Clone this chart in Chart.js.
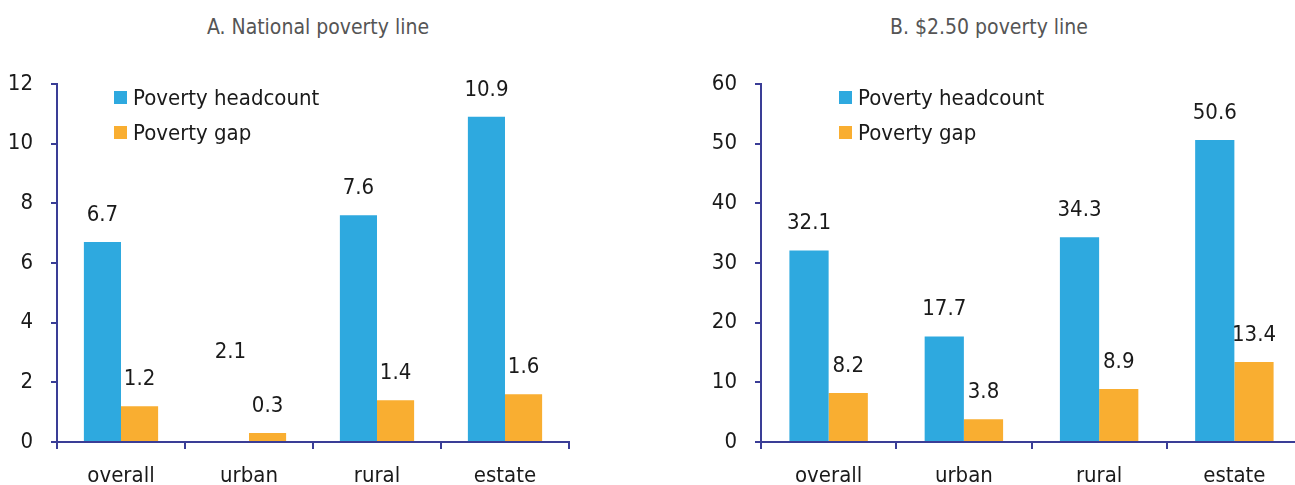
<!DOCTYPE html>
<html>
<head>
<meta charset="utf-8">
<script src="https://cdn.jsdelivr.net/npm/chart.js@4"></script>
<style>
  body {
    margin: 0;
    width: 1295px;
    height: 485px;
    overflow: hidden;
    background: #fff;
    position: relative;
    font-family: "Liberation Sans Narrow", "DejaVu Sans Condensed", sans-serif;
  }
  canvas { position: absolute; top: 0; }
  .virsraksts {
    position: absolute;
    top: 14px;
    font-size: 21px;
    line-height: 26px;
    color: #555;
    white-space: nowrap;
    transform: translateX(-50%);
  }
  .legenda {
    position: absolute;
    top: 80px;
    font-size: 22px;
    color: #1a1a1a;
  }
  .legenda div { height: 35px; display: flex; align-items: center; white-space: nowrap; }
  .legenda span { display: inline-block; width: 13px; height: 13px; margin-right: 6px; }
</style>
</head>
<body>
<div class="virsraksts" style="left:318px">A. National poverty line</div>
<div class="virsraksts" style="left:989px">B. $2.50 poverty line</div>
<canvas id="grafiksA" width="650" height="485" style="left:0"></canvas>
<canvas id="grafiksB" width="655" height="485" style="left:650px"></canvas>
<div class="legenda" style="left:114px">
  <div><span style="background:#2ea9df"></span>Poverty headcount</div>
  <div><span style="background:#f9ae31"></span>Poverty gap</div>
</div>
<div class="legenda" style="left:839px">
  <div><span style="background:#2ea9df"></span>Poverty headcount</div>
  <div><span style="background:#f9ae31"></span>Poverty gap</div>
</div>
<script>
// Kategorijas un vērtības, nolasītas no attēla.
const kategorijas = ["overall", "urban", "rural", "estate"];
const headcountA = [6.7, 2.1, 7.6, 10.9];
const gapA = [1.2, 0.3, 1.4, 1.6];
const headcountB = [32.1, 17.7, 34.3, 50.6];
const gapB = [8.2, 3.8, 8.9, 13.4];
const ticksA = [0, 2, 4, 6, 8, 10, 12];
const ticksB = [0, 10, 20, 30, 40, 50, 60];
// Oriģinālā pilsētas stabiņš A panelī nav uzzīmēts, tikai tā vērtība.
const bezStabinaA = [false, true, false, false];
const bezStabinaB = [false, false, false, false];

const zila = "#2ea9df";
const oranza = "#f9ae31";
const asuKrasa = "#3a3d96";
const fonts = "'Liberation Sans Narrow', 'DejaVu Sans Condensed', sans-serif";

// Vērtību etiķetes virs stabiņiem.
const vertibuEtiketes = {
    id: "vertibuEtiketes",
    afterDatasetsDraw(chart) {
        const ctx = chart.ctx;
        ctx.save();
        ctx.font = "22px " + fonts;
        ctx.fillStyle = "#1a1a1a";
        ctx.textAlign = "center";
        ctx.textBaseline = "middle";
        chart.data.datasets.forEach((ds, i) => {
            chart.getDatasetMeta(i).data.forEach((bar, j) => {
                ctx.fillText(ds.data[j].toFixed(1), bar.x, bar.y - 27);
            });
        });
        ctx.restore();
    }
};

function uzzimet(id, headcount, gap, ticks, bezStabina, yPlatums, labaMala) {
    new Chart(document.getElementById(id), {
        type: "bar",
        data: {
            labels: kategorijas,
            datasets: [
                {
                    label: "Poverty headcount",
                    data: headcount,
                    backgroundColor: bezStabina.map(b => b ? "rgba(0,0,0,0)" : zila)
                },
                {
                    label: "Poverty gap",
                    data: gap,
                    backgroundColor: oranza
                }
            ]
        },
        options: {
            responsive: false,
            animation: false,
            events: [],
            categoryPercentage: 0.58,
            barPercentage: 1,
            layout: { padding: { top: 84, right: labaMala, left: 0, bottom: 0 } },
            plugins: { legend: { display: false }, tooltip: { enabled: false } },
            scales: {
                x: {
                    offset: true,
                    grid: { offset: true, drawOnChartArea: false, tickLength: 7, color: asuKrasa, lineWidth: 2 },
                    border: { color: asuKrasa, width: 2 },
                    ticks: { color: "#1a1a1a", font: { family: fonts, size: 22 }, padding: 14 },
                    afterFit: s => { s.height = 43; }
                },
                y: {
                    min: ticks[0],
                    max: ticks[ticks.length - 1],
                    afterBuildTicks: s => { s.ticks = ticks.map(v => ({ value: v })); },
                    grid: { drawOnChartArea: false, tickLength: 6, color: asuKrasa, lineWidth: 2 },
                    border: { color: asuKrasa, width: 2 },
                    ticks: { color: "#1a1a1a", font: { family: fonts, size: 22 }, padding: 18 },
                    afterFit: s => { s.width = yPlatums; }
                }
            }
        },
        plugins: [vertibuEtiketes]
    });
}

uzzimet("grafiksA", headcountA, gapA, ticksA, bezStabinaA, 57, 81);
uzzimet("grafiksB", headcountB, gapB, ticksB, bezStabinaB, 111, 3);
</script>
</body>
</html>
